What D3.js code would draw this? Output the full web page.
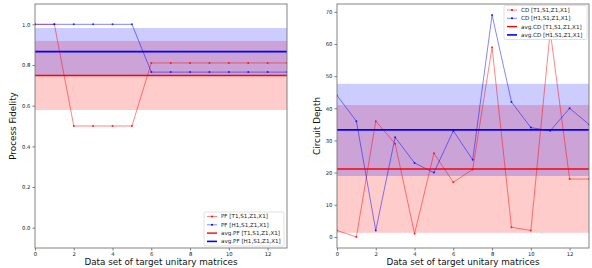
<!DOCTYPE html>
<html><head><meta charset="utf-8">
<script src="https://cdn.jsdelivr.net/npm/d3@7"></script>
<style>body{margin:0;background:#fff}svg{display:block;font-family:"DejaVu Sans",sans-serif}</style>
</head><body><svg id="c" width="592" height="268"></svg>
<script>
const xs = [0,1,2,3,4,5,6,7,8,9,10,11,12,13];
const pfT = [1.0,1.0,0.5,0.5,0.5,0.5,0.81,0.81,0.81,0.81,0.81,0.81,0.81,0.81];
const pfH = [1.0,1.0,1.0,1.0,1.0,1.0,0.765,0.765,0.765,0.765,0.765,0.765,0.765,0.765];
const cdT = [2,0,36,29,1,26,17,21,59,3,2,64,18,18];
const cdH = [44,36,2,31,23,20,33,24,69,42,34,33,40,35];
const xTicks = [0,2,4,6,8,10,12];
const pfTicks = [0.0,0.2,0.4,0.6,0.8,1.0];
const cdTicks = [0,10,20,30,40,50,60,70];
const pfLegend = ["PF [T1,S1,Z1,X1]","PF [H1,S1,Z1,X1]","avg.PF [T1,S1,Z1,X1]","avg.PF [H1,S1,Z1,X1]"];
const cdLegend = ["CD [T1,S1,Z1,X1]","CD [H1,S1,Z1,X1]","avg.CD [T1,S1,Z1,X1]","avg.CD [H1,S1,Z1,X1]"];

const svg = d3.select("#c");
const mean = a => d3.mean(a);
const std = a => { const m = d3.mean(a); return Math.sqrt(d3.mean(a, v => (v-m)*(v-m))); };

function panel(o){
  const g = svg.append("g");
  const x = d3.scaleLinear().domain([0,13]).range([o.x0,o.x1]);
  const y = d3.scaleLinear().domain(o.ydom).range([o.y1,o.y0]);
  const clip = "clip"+o.id;
  svg.append("clipPath").attr("id",clip).append("rect")
    .attr("x",o.x0).attr("y",o.y0).attr("width",o.x1-o.x0).attr("height",o.y1-o.y0);
  const pg = g.append("g").attr("clip-path",`url(#${clip})`);
  const series = [[o.a,"red"],[o.b,"blue"]];
  series.forEach(([d,c])=>{
    const m = mean(d), s = std(d);
    pg.append("rect").attr("x",o.x0).attr("width",o.x1-o.x0)
      .attr("y",y(m+s)).attr("height",y(m-s)-y(m+s))
      .attr("fill",c).attr("fill-opacity",0.2);
  });
  const line = d3.line().x((d,i)=>x(xs[i])).y(d=>y(d));
  series.forEach(([d,c])=>{
    pg.append("path").datum(d).attr("d",line).attr("fill","none")
      .attr("stroke",c).attr("stroke-opacity",0.6).attr("stroke-width",0.8);
    pg.selectAll(null).data(d).enter().append("circle")
      .attr("cx",(v,i)=>x(xs[i])).attr("cy",v=>y(v)).attr("r",1)
      .attr("fill",c).attr("fill-opacity",0.8);
  });
  series.forEach(([d,c],k)=>{
    pg.append("line").attr("x1",o.x0).attr("x2",o.x1)
      .attr("y1",y(mean(d))).attr("y2",y(mean(d)))
      .attr("stroke",c).attr("stroke-width",k===0?1.4:1.8);
  });
  const xa = g.append("g").attr("transform",`translate(0,${o.y1})`)
    .call(d3.axisBottom(x).tickValues(xTicks).tickSize(2.5).tickPadding(2).tickFormat(d3.format("d")));
  const ya = g.append("g").attr("transform",`translate(${o.x0},0)`)
    .call(d3.axisLeft(y).tickValues(o.yticks).tickSize(2.5).tickPadding(2).tickFormat(o.fmt));
  [xa,ya].forEach(a=>{
    a.select(".domain").remove();
    a.selectAll("line").attr("stroke","#444").attr("stroke-width",0.7);
    a.selectAll("text").attr("font-size",5.3).attr("fill","#222").attr("font-family","DejaVu Sans");
  });
  g.append("rect").attr("x",o.x0).attr("y",o.y0).attr("width",o.x1-o.x0).attr("height",o.y1-o.y0)
    .attr("fill","none").attr("stroke","#777").attr("stroke-width",0.9);
  g.append("text").attr("x",(o.x0+o.x1)/2).attr("y",265).attr("text-anchor","middle")
    .attr("font-size",8.8).attr("fill","#111").text("Data set of target unitary matrices");
  g.append("text").attr("transform",`translate(${o.ylx},${(o.y0+o.y1)/2}) rotate(-90)`)
    .attr("text-anchor","middle").attr("font-size",8.8).attr("fill","#111").text(o.ylabel);
  const L = o.leg;
  g.append("rect").attr("x",L.x).attr("y",L.y).attr("width",L.w).attr("height",L.h)
    .attr("fill","#fff").attr("fill-opacity",0.85).attr("stroke","#ccc").attr("stroke-width",0.6).attr("rx",1.5);
  const styles = [["red",0.6,0.8,true],["blue",0.6,0.8,true],["red",1,1.4,false],["blue",1,1.6,false]];
  o.labels.forEach((t,i)=>{
    const yy = L.y + 4.5 + i*8.3;
    const [c,op,w,mk] = styles[i];
    g.append("line").attr("x1",L.x+3).attr("x2",L.x+13).attr("y1",yy).attr("y2",yy)
      .attr("stroke",c).attr("stroke-opacity",op).attr("stroke-width",w);
    if(mk) g.append("circle").attr("cx",L.x+8).attr("cy",yy).attr("r",1).attr("fill",c);
    g.append("text").attr("x",L.x+17).attr("y",yy+1.9).attr("font-size",5.6).attr("fill","#222").text(t);
  });
}

panel({id:"a",x0:35,x1:287,y0:4,y1:248,ydom:[-0.1,1.1],a:pfT,b:pfH,yticks:pfTicks,fmt:d3.format(".1f"),
  ylabel:"Process Fidelity",ylx:16,labels:pfLegend,leg:{x:204,y:212,w:80,h:34}});
const cmin = d3.min(cdT.concat(cdH)), cmax = d3.max(cdT.concat(cdH)), pad=(cmax-cmin)*0.05;
panel({id:"b",x0:337,x1:589,y0:4,y1:248,ydom:[cmin-pad,cmax+pad],a:cdT,b:cdH,yticks:cdTicks,fmt:d3.format("d"),
  ylabel:"Circuit Depth",ylx:320,labels:cdLegend,leg:{x:504,y:5.5,w:83,h:34}});
</script></body></html>
